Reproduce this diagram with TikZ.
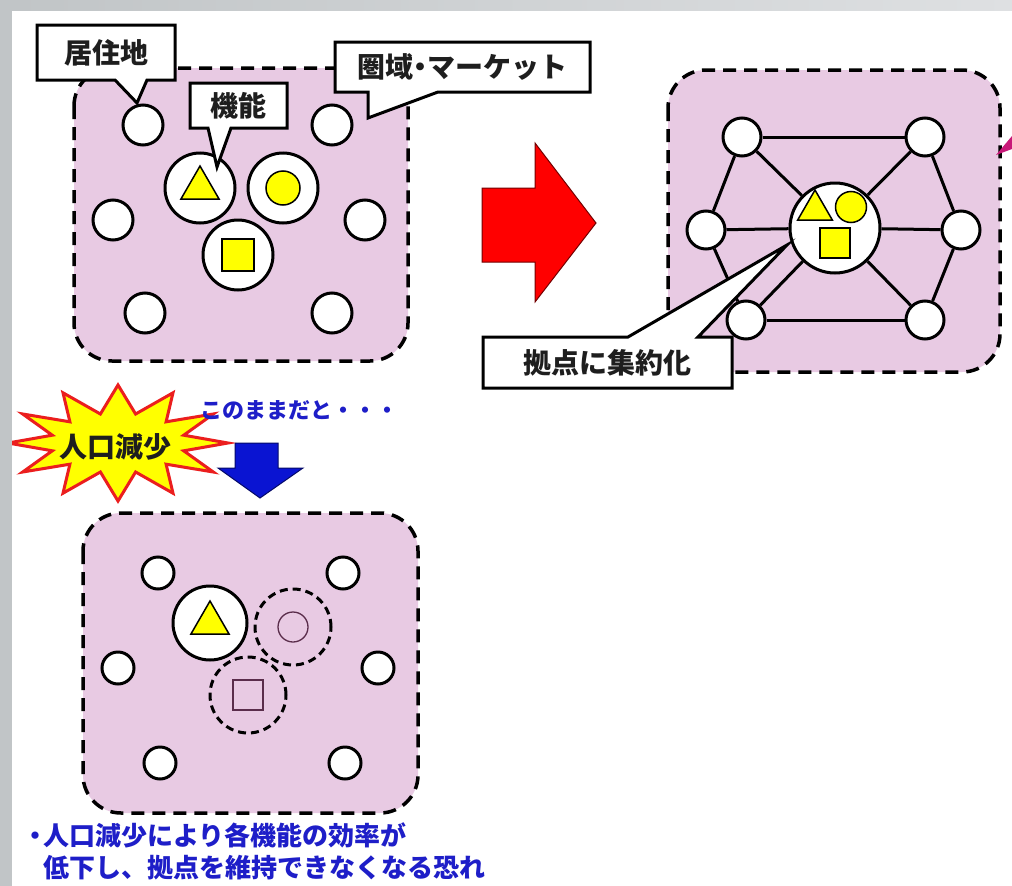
\documentclass[tikz,border=0pt]{standalone}
\usepackage{fontspec}
\setmainfont{Noto Sans CJK JP}
\usetikzlibrary{shapes.geometric}
\definecolor{panelpink}{RGB}{232,202,227}
\definecolor{edgegray}{RGB}{193,197,199}
\definecolor{edgegraylight}{RGB}{222,224,226}
\definecolor{txtblue}{RGB}{30,30,200}
\definecolor{arrowblue}{RGB}{10,20,210}
\definecolor{starred}{RGB}{235,30,30}
\definecolor{thinpurple}{RGB}{90,45,75}
\definecolor{wedgemag}{RGB}{200,25,120}
\definecolor{shapeyellow}{RGB}{255,255,0}
\definecolor{lbldark}{RGB}{30,30,30}
\tikzset{
  panel/.style={draw=black, fill=panelpink, line width=3.5pt, dash pattern=on 13pt off 8pt, rounded corners=38pt},
  callout/.style={draw=black, fill=white, line width=3pt, line join=miter},
  lbltext/.style={text=lbldark, font=\bfseries\fontsize{28}{30}\selectfont, inner sep=0pt},
  res/.style={circle, draw=black, fill=white, line width=3pt, minimum size=40pt, inner sep=0pt},
  ressmall/.style={res, minimum size=32pt},
  func/.style={circle, draw=black, fill=white, line width=3pt, minimum size=70pt, inner sep=0pt},
  lostfunc/.style={circle, draw=black, line width=3pt, dash pattern=on 8pt off 5pt, minimum size=76pt, inner sep=0pt},
  ghost/.style={draw=thinpurple, line width=1.3pt, inner sep=0pt},
  ytri/.style={regular polygon, regular polygon sides=3, fill=shapeyellow, draw=black, line width=1.5pt, inner sep=0pt, minimum size=44pt},
  ycirc/.style={circle, fill=shapeyellow, draw=black, line width=1.5pt, inner sep=0pt, minimum size=34pt},
  ysq/.style={rectangle, fill=shapeyellow, draw=black, line width=1.5pt, inner sep=0pt, minimum size=32pt},
  link/.style={line width=3pt},
  bluetext/.style={text=txtblue, font=\bfseries\fontsize{26}{28}\selectfont, inner sep=0pt, anchor=west},
}
\begin{document}
\begin{tikzpicture}[x=1pt,y=-1pt]
\useasboundingbox (0,0) rectangle (1012,886);
\fill[white] (0,0) rectangle (1012,886);

% ---------- panel 1 : present ----------
\draw[panel] (74,68) rectangle (408,361);
\node[res] (a1) at (143,125) {};
\node[res] (a2) at (332,125) {};
\node[res] (a3) at (113,220) {};
\node[res] (a4) at (365,220) {};
\node[res] (a5) at (145,313) {};
\node[res] (a6) at (332,313) {};
\node[func] (f1) at (200,188) {};
\node[func] (f2) at (283,188) {};
\node[func] (f3) at (238,255) {};
\node[ytri] (t1) at (f1) {};
\node[ycirc] (c1) at (f2) {};
\node[ysq] (s1) at (f3) {};

% callouts
\draw[callout] (37,25) -- (175,25) -- (175,80) -- (147,80) -- (137,103) -- (115,80) -- (37,80) -- cycle;
\node[lbltext] (lres) at (106,52.5) {居住地};
\draw[callout] (190,83) -- (287,83) -- (287,128) -- (231,128) -- (217,167) -- (208,128) -- (190,128) -- cycle;
\node[lbltext] (lfunc) at (238.5,105.5) {機能};
\draw[callout] (335,42) -- (590,42) -- (590,92) -- (438,92) -- (368,118) -- (368,92) -- (335,92) -- cycle;
\node[lbltext] (lmkt) at (462.5,67) {圏域\makebox[14pt][c]{・}マーケット};

% ---------- red arrow ----------
\draw[fill=red, draw=red!45!black, line width=1pt] (482,188) -- (535,188) -- (535,143) -- (596,223) -- (535,302) -- (535,262) -- (482,262) -- cycle;

% ---------- panel 2 : concentrated ----------
\draw[panel] (668,70) rectangle (1000,372);
\node[res, minimum size=38pt] (b1) at (742,137) {};
\node[res, minimum size=38pt] (b2) at (925,137) {};
\node[res, minimum size=38pt] (b3) at (706,230) {};
\node[res, minimum size=38pt] (b4) at (961,230) {};
\node[res, minimum size=38pt] (b5) at (746,320) {};
\node[res, minimum size=38pt] (b6) at (925,320) {};
\node[func, minimum size=90pt] (hub) at (835,228) {};
\draw[link] (b1) -- (b2);
\draw[link] (b1) -- (b3);
\draw[link] (b2) -- (b4);
\draw[link] (b3) -- (b5);
\draw[link] (b4) -- (b6);
\draw[link] (b5) -- (b6);
\draw[link] (b1) -- (hub);
\draw[link] (b2) -- (hub);
\draw[link] (b3) -- (hub);
\draw[link] (b4) -- (hub);
\draw[link] (b5) -- (hub);
\draw[link] (b6) -- (hub);
\node[ytri, minimum size=40pt] (t2) at (815,210) {};
\node[ycirc, minimum size=31pt] (c2) at (851,207) {};
\node[ysq, minimum size=30pt] (s2) at (835,243) {};
\draw[callout] (483,337) -- (628,337) -- (787,245) -- (698,337) -- (732,337) -- (732,388) -- (483,388) -- cycle;
\node[lbltext] (lhub) at (607.5,362.5) {拠点に集約化};
\fill[wedgemag] (996,155) -- (1012,136) -- (1012,149) -- cycle;

% ---------- population decline ----------
\draw[fill=shapeyellow, draw=starred, line width=3pt, line join=miter]
  (118,385) -- (135.6,414) -- (173,392.8) -- (166.1,421.8) -- (213.3,414) -- (183.7,435.2)
  -- (228,443) -- (183.7,450.8) -- (213.3,472) -- (166.1,464.2) -- (173,493.2) -- (135.6,472)
  -- (118,501) -- (100.4,472) -- (63,493.2) -- (69.9,464.2) -- (22.7,472) -- (52.3,450.8)
  -- (8,443) -- (52.3,435.2) -- (22.7,414) -- (69.9,421.8) -- (63,392.8) -- (100.4,414) -- cycle;
\node[lbltext] (burst) at (115,447) {人口減少};
\node[bluetext, font=\bfseries\fontsize{22}{24}\selectfont] (cont) at (200,410) {このままだと・・・};
\draw[fill=arrowblue, draw=arrowblue!50!black, line width=1pt] (235,443) -- (278,443) -- (278,468) -- (303,468) -- (260,498) -- (218,468) -- (235,468) -- cycle;

% ---------- panel 3 : decline ----------
\draw[panel] (83,513) rectangle (418,813);
\node[ressmall] (d1) at (158,573) {};
\node[ressmall] (d2) at (343,573) {};
\node[ressmall] (d3) at (118,668) {};
\node[ressmall] (d4) at (378,668) {};
\node[ressmall] (d5) at (160,763) {};
\node[ressmall] (d6) at (345,763) {};
\node[func, minimum size=74pt] (g1) at (210,623) {};
\node[ytri] (t3) at (g1) {};
\node[lostfunc] (g2) at (293,627) {};
\node[lostfunc] (g3) at (248,695) {};
\node[ghost, circle, minimum size=30pt] (c3) at (g2) {};
\node[ghost, rectangle, minimum size=30pt] (s3) at (g3) {};

\node[bluetext] (note1) at (27,835) {\makebox[16pt][c]{・}人口減少により各機能の効率が};
\node[bluetext] (note2) at (43,868) {低下し、拠点を維持できなくなる恐れ};

% ---------- frame ----------
\fill[edgegray] (0,0) rectangle (12,886);
\shade[left color=edgegray, right color=edgegraylight] (12,0) rectangle (1012,10);
\end{tikzpicture}
\end{document}
